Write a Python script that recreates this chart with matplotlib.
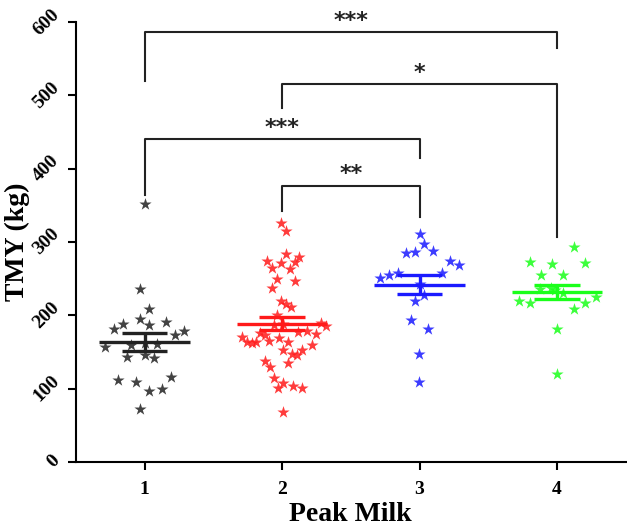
import numpy as np
import matplotlib
matplotlib.use('Agg')
import matplotlib.pyplot as plt

plt.rcParams['font.family'] = ['Liberation Serif', 'DejaVu Serif']
plt.rcParams['font.weight'] = 'bold'

# TMY values per Peak Milk group
tmy_1 = [352, 235.5, 208.6, 194.6, 187.3, 190.4, 188, 181, 178.6, 172.7, 157, 159.5,
         162, 161, 143, 146, 141, 111, 109.5, 116, 100, 96, 72]
jit_1 = [0, -0.036, 0.029, -0.036, 0.029, 0.155, -0.16, -0.225, 0.284, 0.223, -0.291, -0.097,
         0, 0.092, -0.131, 0, 0.065, -0.194, -0.065, 0.189, 0.126, 0.029, -0.036]

tmy_2 = [325.5, 315, 283, 280, 274.5, 271, 272, 264, 263, 249, 247, 237, 220, 215, 211, 200,
         187, 188, 189, 186, 175.5, 173, 170, 163, 162, 163, 165, 169.5, 164, 177.7, 178.6,
         174.5, 159.5, 152.7, 147, 146, 152.7, 135.5, 137.7, 130, 114, 108, 100.4, 104, 101, 68]
jit_2 = [-0.007, 0.029, 0.027, 0.126, -0.111, -0.007, 0.095, -0.075, 0.058, -0.039, 0.095,
         -0.075, -0.007, 0.029, 0.063, -0.039, -0.058, 0.005, 0.281, 0.32, -0.16, -0.124,
         -0.293, -0.257, -0.22, -0.189, -0.092, -0.022, 0.041, 0.114, 0.18, 0.245, 0.216,
         0.009, 0.073, 0.107, 0.148, 0.041, -0.126, -0.089, -0.058, 0.009, -0.027, 0.078,
         0.145, 0.009]

tmy_3 = [311, 297, 285.5, 286, 288, 274.5, 268.6, 251.4, 255, 258, 257, 243, 228, 220,
         193.6, 181, 147, 109]
jit_3 = [0, 0.031, -0.097, -0.031, 0.097, 0.225, 0.289, -0.291, -0.225, -0.158, 0.162, 0,
         0.031, -0.031, -0.065, 0.06, -0.002, -0.002]

tmy_4 = [293.6, 273, 269.6, 271.8, 255, 254.6, 236, 237, 234.5, 231, 220, 216.4, 216.4,
         224.6, 208, 181, 119.6]
jit_4 = [0.124, -0.199, -0.034, 0.204, -0.116, 0.046, -0.124, -0.046, -0.015, 0.046, -0.276,
         -0.199, 0.204, 0.281, 0.124, 0.002, 0.002]

groups = [1, 2, 3, 4]
colors = ['#222222', '#ff1a1a', '#1a1aff', '#1aff1a']

# significance brackets: (left group, right group, top, left leg end, right leg end, label)
brackets = [
    (1, 4, 586, 519, 564, '***'),
    (2, 4, 515, 483, 307, '*'),
    (1, 3, 440, 364, 414, '***'),
    (2, 3, 377, 342, 334, '**'),
]

fig = plt.figure(figsize=(6.27, 5.26), dpi=100)
ax = fig.add_axes([0.121, 0.122, 0.877, 0.836])

data = [tmy_1, tmy_2, tmy_3, tmy_4]
jitter = [jit_1, jit_2, jit_3, jit_4]
for g, vals, jit, c in zip(groups, data, jitter, colors):
    vals = np.array(vals)
    ax.scatter(g + np.array(jit), vals, marker='*', s=85, color=c, alpha=0.85,
               linewidths=0, zorder=3)
    m = vals.mean()
    sem = vals.std(ddof=1) / np.sqrt(len(vals))
    ax.hlines(m, g - 0.33, g + 0.33, color=c, lw=2.4, zorder=4)
    ax.hlines([m - sem, m + sem], g - 0.165, g + 0.165, color=c, lw=2.4, zorder=4)
    ax.vlines(g, m - sem, m + sem, color=c, lw=2.4, zorder=4)

for x1, x2, top, y1, y2, lab in brackets:
    ax.plot([x1, x1, x2, x2], [y1, top, top, y2], color='#222222', lw=1.5)
    ax.text((x1 + x2) / 2, top + 2, lab, ha='center', va='bottom', fontsize=16,
            fontweight='bold', color='#222222', family='DejaVu Sans')

ax.set_xlim(0.5, 4.5)
ax.set_ylim(0, 600)
ax.set_xticks(groups)
ax.set_yticks(range(0, 601, 100))
for lbl in ax.get_yticklabels():
    lbl.set_rotation(45)
    lbl.set_va('center')
ax.tick_params(labelsize=14, width=1.5, length=6, direction='out')
ax.tick_params(axis='x', pad=8)
ax.spines['top'].set_visible(False)
ax.spines['right'].set_visible(False)
ax.spines['left'].set_linewidth(1.5)
ax.spines['bottom'].set_linewidth(1.5)
ax.set_xlabel('Peak Milk', fontsize=20, fontweight='bold', labelpad=3)
ax.set_ylabel('TMY (kg)', fontsize=20, fontweight='bold', labelpad=0)

fig.savefig('out.png', dpi=100)
